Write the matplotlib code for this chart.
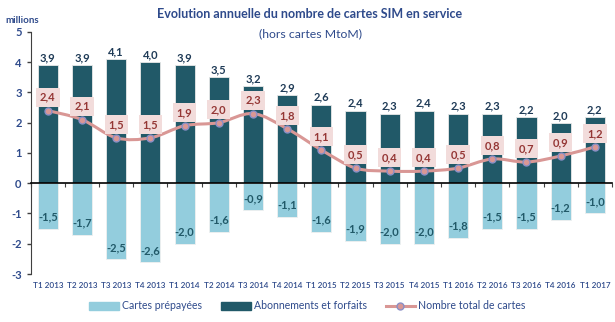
import matplotlib
matplotlib.use("Agg")
import matplotlib.pyplot as plt
import numpy as np
from matplotlib.path import Path
from matplotlib.patches import PathPatch
from matplotlib.lines import Line2D
from matplotlib.patches import Patch

categories = ["T1 2013", "T2 2013", "T3 2013", "T4 2013", "T1 2014", "T2 2014", "T3 2014",
              "T4 2014", "T1 2015", "T2 2015", "T3 2015", "T4 2015", "T1 2016", "T2 2016",
              "T3 2016", "T4 2016", "T1 2017"]
abonnements = [3.9, 3.9, 4.1, 4.0, 3.9, 3.5, 3.2, 2.9, 2.6, 2.4, 2.3, 2.4, 2.3, 2.3, 2.2, 2.0, 2.2]
prepayees = [-1.5, -1.7, -2.5, -2.6, -2.0, -1.6, -0.9, -1.1, -1.6, -1.9, -2.0, -2.0, -1.8, -1.5, -1.5, -1.2, -1.0]
total = [2.4, 2.1, 1.5, 1.5, 1.9, 2.0, 2.3, 1.8, 1.1, 0.5, 0.4, 0.4, 0.5, 0.8, 0.7, 0.9, 1.2]
yticks = [-3, -2, -1, 0, 1, 2, 3, 4, 5]

plt.rcParams['font.family'] = ['Lato', 'DejaVu Sans']

dark = '#215968'
light = '#93CDDD'
linec = '#D99795'
blue = '#2E4A8B'

fig = plt.figure(figsize=(6.15, 3.22), dpi=100)
ax = fig.add_axes([0.050, 0.149, 0.945, 0.752])

x = np.arange(len(categories))
ax.bar(x, abonnements, width=0.59, color=dark, edgecolor='#e8e8e8', linewidth=0.6, zorder=2)
ax.bar(x, prepayees, width=0.59, color=light, edgecolor='#f0f0f0', linewidth=0.6, zorder=2)

# smooth line via Catmull-Rom bezier
pts = np.column_stack([x, total]).astype(float)
verts = [tuple(pts[0])]
codes = [Path.MOVETO]
n = len(pts)
for i in range(n - 1):
    p0 = pts[i - 1] if i > 0 else pts[i]
    p1 = pts[i]
    p2 = pts[i + 1]
    p3 = pts[i + 2] if i + 2 < n else pts[i + 1]
    c1 = p1 + (p2 - p0) / 6.0
    c2 = p2 - (p3 - p1) / 6.0
    verts += [tuple(c1), tuple(c2), tuple(p2)]
    codes += [Path.CURVE4] * 3
ax.add_patch(PathPatch(Path(verts, codes), facecolor='none', edgecolor=linec, lw=2.2, zorder=3))
ax.plot(x, total, linestyle='none', marker='o', ms=5, mfc=linec, mec='#8A8FC6', mew=1.0, zorder=4)

for xi, v in zip(x, abonnements):
    ax.text(xi, v + 0.24, f"{v:.1f}".replace('.', ','), ha='center', va='center',
            fontsize=8, fontweight='bold', color='#1F3B57', zorder=5)
for xi, v in zip(x, prepayees):
    ax.text(xi, v + 0.38, f"{v:.1f}".replace('.', ','), ha='center', va='center',
            fontsize=8, fontweight='bold', color=dark, zorder=5)
for xi, v in zip(x, total):
    ax.text(xi, v + 0.44, f"{v:.1f}".replace('.', ','), ha='center', va='center',
            fontsize=8, fontweight='bold', color='#953735', zorder=6,
            bbox=dict(boxstyle='square,pad=0.35', fc='#F2DCDB', ec='none'))

ax.set_xlim(-0.5, len(categories) - 0.5)
ax.set_ylim(-3, 5)
ax.set_yticks(yticks)
ax.set_yticklabels([str(t) for t in yticks])
ax.tick_params(axis='y', colors='#404040', labelcolor=blue, labelsize=8, length=3, width=1)
for lab in ax.get_yticklabels():
    lab.set_fontweight('bold')

for s in ['top', 'right']:
    ax.spines[s].set_visible(False)
ax.spines['left'].set_color('#404040')
ax.spines['bottom'].set_position(('data', 0))
ax.spines['bottom'].set_color('black')
ax.spines['bottom'].set_linewidth(1.2)
ax.set_xticks(np.arange(-0.5, len(categories), 1.0))
ax.set_xticklabels([])
ax.tick_params(axis='x', length=3, color='#404040', direction='out')

sec = ax.secondary_xaxis(0)
sec.set_xticks(x)
sec.set_xticklabels(categories)
sec.tick_params(axis='x', length=0, labelsize=5.9, labelcolor=blue, pad=6)
for lab in sec.get_xticklabels():
    lab.set_fontweight('semibold')
sec.spines['bottom'].set_visible(False)

fig.text(0.503, 0.955, "Evolution annuelle du nombre de cartes SIM en service", ha='center', va='center',
         fontsize=9, fontweight='bold', color='#2E4A8B')
fig.text(0.505, 0.895, "(hors cartes MtoM)", ha='center', va='center', fontsize=8.8, color='#2E4A8B')
fig.text(0.008, 0.935, "millions", ha='left', va='center', fontsize=7, fontweight='bold', color='#2E4A8B')

handles = [Patch(color=light, label='Cartes prépayées'),
           Patch(color=dark, label='Abonnements et forfaits'),
           Line2D([0], [0], color=linec, lw=2.2, marker='o', ms=5, mfc=linec, mec='#8A8FC6',
                  label='Nombre total de cartes')]
leg = fig.legend(handles=handles, loc='center', bbox_to_anchor=(0.5, 0.05), ncol=3, frameon=False,
                 fontsize=7.6, handlelength=2.8, handleheight=0.8, columnspacing=1.8, handletextpad=0.3)
for t in leg.get_texts():
    t.set_color(blue)

fig.savefig("out.png", dpi=100)
